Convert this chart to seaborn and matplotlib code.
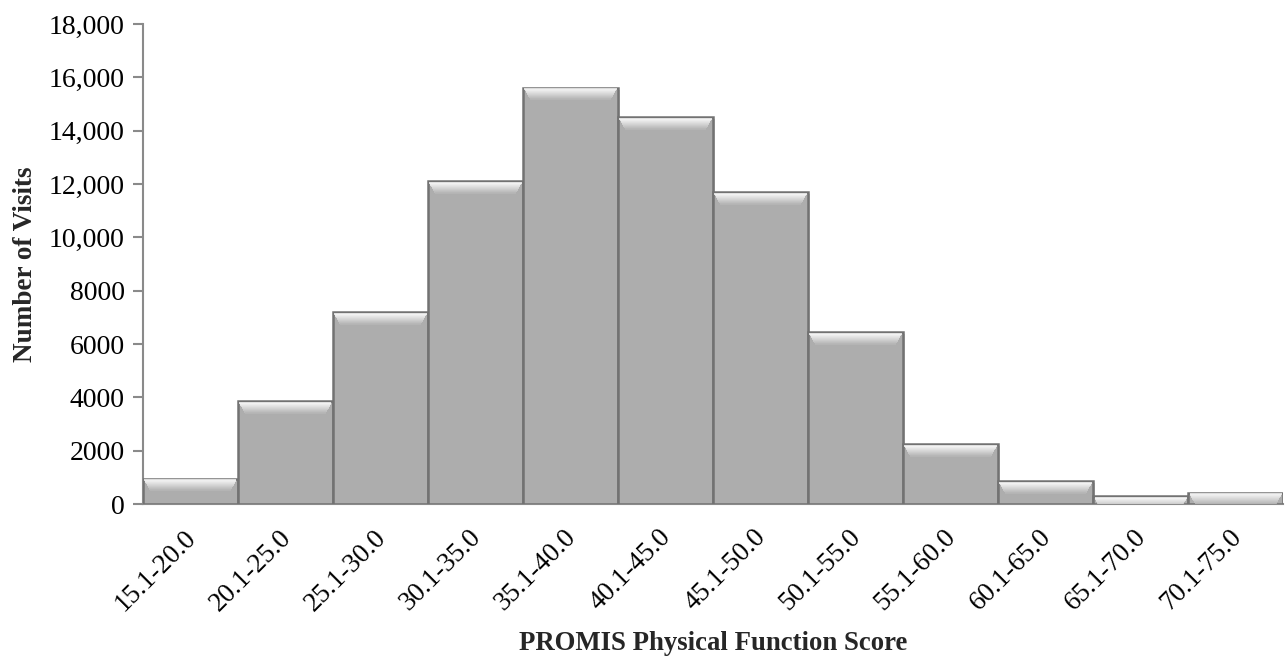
import matplotlib
matplotlib.use("Agg")
import matplotlib.pyplot as plt
import matplotlib.transforms as mtransforms
from matplotlib.patches import Rectangle
from matplotlib.ticker import FuncFormatter
import numpy as np
import pandas as pd
import seaborn as sns

sns.set_theme(style="white")
plt.rcParams['font.family'] = ['Liberation Serif', 'DejaVu Serif']

# score bins and visit counts
score_bins = ['15.1-20.0', '20.1-25.0', '25.1-30.0', '30.1-35.0', '35.1-40.0', '40.1-45.0',
              '45.1-50.0', '50.1-55.0', '55.1-60.0', '60.1-65.0', '65.1-70.0', '70.1-75.0']
visits = [950, 3850, 7200, 12100, 15600, 14500, 11700, 6450, 2250, 850, 300, 420]
y_ticks = [0, 2000, 4000, 6000, 8000, 10000, 12000, 14000, 16000, 18000]

df = pd.DataFrame({'score': score_bins, 'visits': visits})

fig = plt.figure(figsize=(12.87, 6.61), dpi=100)
ax = fig.add_axes([0.111, 0.2375, 0.886, 0.7262])

sns.barplot(data=df, x='score', y='visits', color='#adadad', saturation=1, width=1.0,
            edgecolor='#727272', linewidth=1.8, ax=ax, zorder=3)

# bevel effect: light band at top of each bar (fixed pixel height), soft shadow
for p in list(ax.patches):
    x0, w, h = p.get_x(), p.get_width(), p.get_height()
    n = 11
    for i in range(n):
        shade = 0.99 - 0.30 * (i / n)
        tr = mtransforms.offset_copy(ax.transData, fig=fig, x=0, y=-(i + 1.5), units='dots')
        ax.add_patch(Rectangle((x0 + 0.015 + 0.006 * i, h), w - 0.03 - 0.012 * i, 0,
                               transform=tr, facecolor='none',
                               edgecolor=(shade, shade, shade), linewidth=1.1, zorder=4))
    sh = mtransforms.offset_copy(ax.transData, fig=fig, x=2, y=-2, units='dots')
    ax.add_patch(Rectangle((x0, 0), w, h, transform=sh, facecolor='#d0d0d0',
                           edgecolor='none', zorder=2))

ax.set_ylim(0, 18000)
ax.set_xlim(-0.5, len(score_bins) - 0.5)
ax.set_yticks(y_ticks)
ax.yaxis.set_major_formatter(FuncFormatter(lambda v, pos: f'{int(v):,}' if v >= 10000 else f'{int(v)}'))

for s in ['top', 'right']:
    ax.spines[s].set_visible(False)
for s in ['left', 'bottom']:
    ax.spines[s].set_color('#8a8a8a')
    ax.spines[s].set_linewidth(1.5)

ax.tick_params(axis='y', which='major', left=True, length=7, width=1.5, color='#8a8a8a',
               labelsize=20, pad=6, labelcolor='black')
ax.tick_params(axis='x', bottom=False, labelsize=19.5, pad=9, labelcolor='black')
shift = mtransforms.ScaledTranslation(-7 / 100, 0, fig.dpi_scale_trans)
for lab in ax.get_xticklabels():
    lab.set_rotation(45)
    lab.set_ha('right')
    lab.set_va('top')
    lab.set_rotation_mode('anchor')
    lab.set_transform(lab.get_transform() + shift)

ax.set_xlabel('PROMIS Physical Function Score', fontsize=19.3, fontweight='bold', labelpad=11)
ax.set_ylabel('Number of Visits', fontsize=19.5, fontweight='bold', labelpad=8)
ax.grid(False)

fig.savefig('out.png', dpi=100)
